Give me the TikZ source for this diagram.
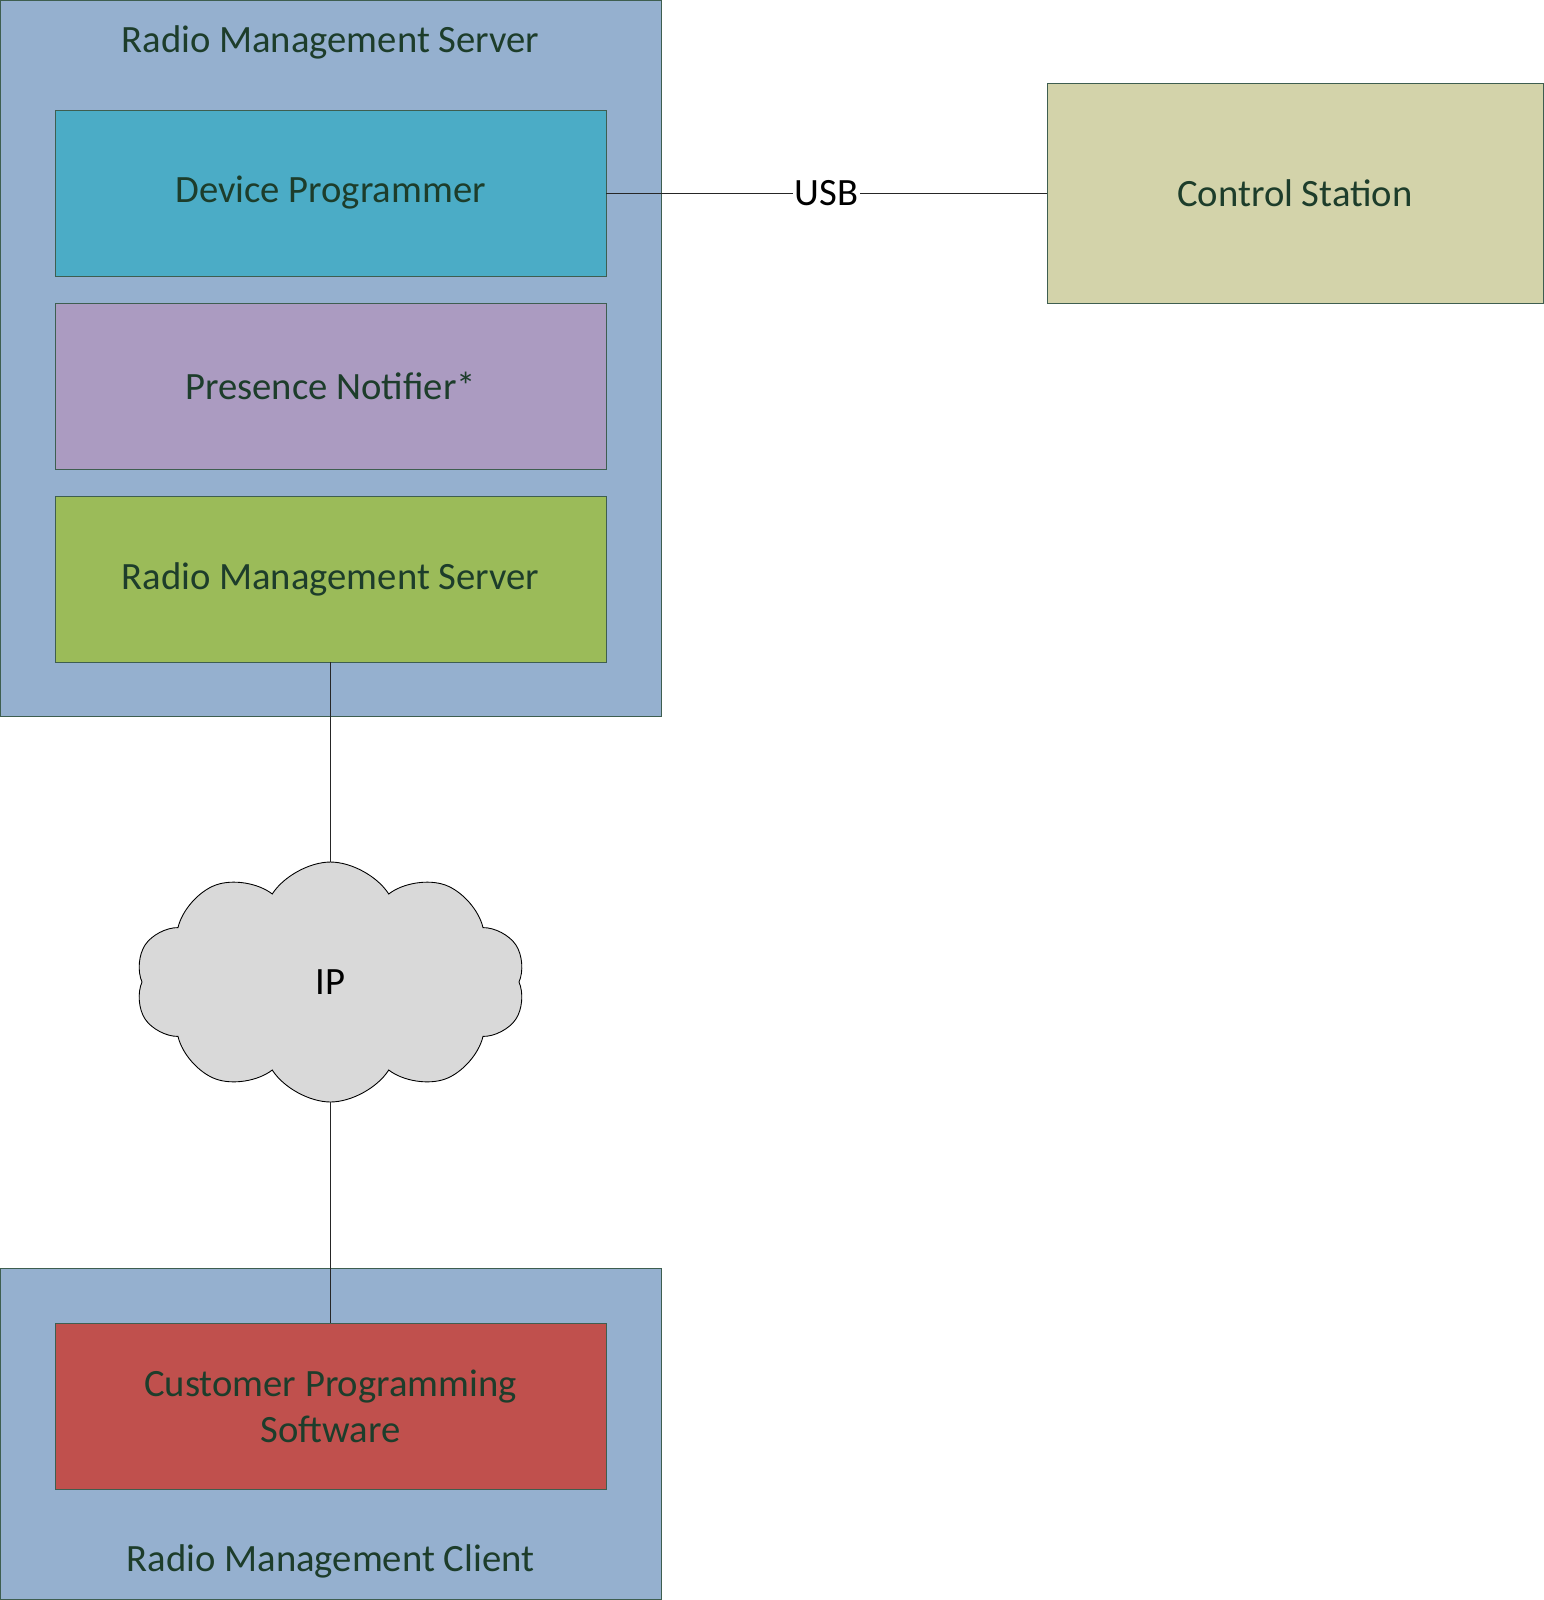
\documentclass[tikz,border=0pt]{standalone}
\usepackage{fontspec}
\setmainfont{Carlito}
\usetikzlibrary{shapes.symbols}

\definecolor{hostblue}{HTML}{95B0CF}
\definecolor{progteal}{HTML}{4BACC6}
\definecolor{notelilac}{HTML}{AB9BC1}
\definecolor{servgreen}{HTML}{9BBB59}
\definecolor{cpsred}{HTML}{C0504D}
\definecolor{stationkhaki}{HTML}{D3D3AA}
\definecolor{cloudgrey}{HTML}{D9D9D9}
\definecolor{labelgreen}{HTML}{1D3D2B}
\definecolor{edgegreen}{HTML}{3E5E50}

\tikzset{
  host/.style={draw=edgegreen, line width=0.5pt, fill=hostblue, minimum width=13.22cm},
  part/.style={draw=edgegreen, line width=0.5pt, minimum width=11.02cm, minimum height=3.32cm,
    text=labelgreen, font=\fontsize{22}{26}\selectfont, align=center},
  hosttitle/.style={text=labelgreen, font=\fontsize{22}{26}\selectfont},
  link/.style={draw=black!85, line width=0.5pt}
}

\begin{document}
\begin{tikzpicture}[x=0.02cm, y=-0.02cm]
  \useasboundingbox (0,0) rectangle (1544,1600);
  % server side
  \node[host, minimum height=14.32cm] (server) at (330.5,358) {};
  \node[hosttitle] (servertitle) at (330.5,42) {Radio Management Server};
  \node[part, fill=progteal] (prog) at (330.5,193) {Device Programmer};
  \node[part, fill=notelilac] (notify) at (330.5,386) {Presence Notifier*};
  \node[part, fill=servgreen] (rms) at (330.5,579) {Radio Management Server};
  % control station
  \node[part, fill=stationkhaki, minimum width=9.92cm, minimum height=4.4cm] (station) at (1295,193) {Control Station};
  % network
  \node[cloud, draw=black, line width=0.5pt, fill=cloudgrey, cloud puffs=10, cloud puff arc=115,
    minimum width=7.8cm, minimum height=4.8cm, font=\fontsize{22}{26}\selectfont] (ip) at (330.5,982) {IP};
  % client side
  \node[host, minimum height=6.62cm] (client) at (330.5,1433.5) {};
  \node[part, fill=cpsred] (cps) at (330.5,1406) {Customer Programming\\Software};
  \node[hosttitle] (clienttitle) at (330.5,1561) {Radio Management Client};
  % links
  \draw[link] (prog.east) -- node[fill=white, inner sep=1pt, font=\fontsize{22}{26}\selectfont] (usb) {USB} (station.west);
  \draw[link] (rms.south) -- (ip.north);
  \draw[link] (ip.south) -- (cps.north);
\end{tikzpicture}
\end{document}
